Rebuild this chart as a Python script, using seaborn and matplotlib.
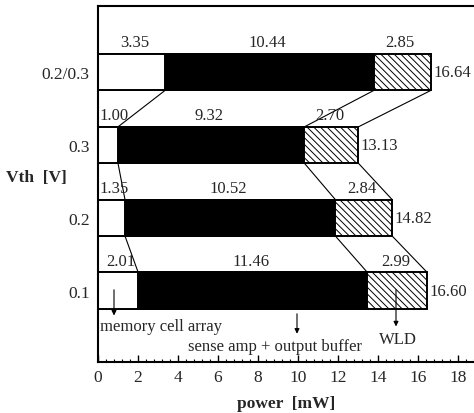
import numpy as np
import pandas as pd
import seaborn as sns
import matplotlib
matplotlib.use("Agg")
import matplotlib.pyplot as plt
from matplotlib.ticker import MultipleLocator

sns.set_theme(style="white")
plt.rcParams['font.family'] = ['Liberation Serif', 'DejaVu Serif']
plt.rcParams['hatch.linewidth'] = 0.7

# ---- data ----
vth = ["0.2/0.3", "0.3", "0.2", "0.1"]          # top to bottom
memory_cell = [3.35, 1.00, 1.35, 2.01]
sense_amp = [10.44, 9.32, 10.52, 11.46]
wld = [2.85, 2.70, 2.84, 2.99]
totals = ["16.64", "13.13", "14.82", "16.60"]
xticks = [0, 2, 4, 6, 8, 10, 12, 14, 16, 18]

mem = np.array(memory_cell)
sa = np.array(sense_amp)
wl = np.array(wld)
c1 = mem
c2 = mem + sa
c3 = mem + sa + wl

df = pd.DataFrame({"vth": vth, "c1": c1, "c2": c2, "c3": c3})

fig = plt.figure(figsize=(4.74, 4.14), dpi=100)
ax = fig.add_axes([98/474, 1-363/414, 1-98/474, (363-7)/414])

bw = 0.5
sns.barplot(data=df, y="vth", x="c3", order=vth, orient="h", ax=ax, width=bw,
            color="white", edgecolor="black", linewidth=1.4, hatch="\\\\\\\\\\",
            saturation=1)
sns.barplot(data=df, y="vth", x="c2", order=vth, orient="h", ax=ax, width=bw,
            color="black", edgecolor="black", linewidth=1.4, saturation=1)
sns.barplot(data=df, y="vth", x="c1", order=vth, orient="h", ax=ax, width=bw,
            color="white", edgecolor="black", linewidth=1.4, saturation=1)

ypos = np.arange(len(vth))
# connecting lines
for i in range(len(vth) - 1):
    yb = ypos[i] + bw / 2
    yt = ypos[i + 1] - bw / 2
    for arr in (c1, c2, c3):
        ax.plot([arr[i], arr[i + 1]], [yb, yt], color="black", lw=0.8)

# value labels
fs = 12
for i in range(len(vth)):
    ytop = ypos[i] - bw / 2 - 0.05
    ax.text(max(c1[i] / 2 + 0.15, 0.8), ytop, f"{memory_cell[i]:.2f}",
            ha="center", va="bottom", fontsize=fs)
    ax.text((c1[i] + c2[i]) / 2 - 0.1, ytop, f"{sense_amp[i]:.2f}",
            ha="center", va="bottom", fontsize=fs)
    ax.text((c2[i] + c3[i]) / 2 - 0.1, ytop, f"{wld[i]:.2f}",
            ha="center", va="bottom", fontsize=fs)
    ax.text(c3[i] + 0.12, ypos[i], totals[i], ha="left", va="center", fontsize=fs)

# annotations
yb = ypos[-1]
ax.annotate("", xy=(0.8, yb + 0.38), xytext=(0.8, yb - 0.05),
            arrowprops=dict(arrowstyle="-|>", color="black", lw=0.8, mutation_scale=7))
ax.text(0.1, yb + 0.49, "memory cell array", ha="left", va="center", fontsize=fs)
ax.annotate("", xy=(9.95, yb + 0.63), xytext=(9.95, yb + 0.28),
            arrowprops=dict(arrowstyle="-|>", color="black", lw=0.8, mutation_scale=7))
ax.text(8.85, yb + 0.76, "sense amp + output buffer", ha="center", va="center", fontsize=fs)
ax.annotate("", xy=(14.9, yb + 0.53), xytext=(14.9, yb - 0.05),
            arrowprops=dict(arrowstyle="-|>", color="black", lw=0.8, mutation_scale=7))
ax.text(15.0, yb + 0.67, "WLD", ha="center", va="center", fontsize=fs)

ax.set_xlim(0, 18.8)
ax.set_ylim(3.98, -0.91)
ax.set_xticks(xticks)
ax.xaxis.set_minor_locator(MultipleLocator(0.4))
ax.tick_params(axis="x", which="major", direction="in", length=5, width=1,
               bottom=True, labelsize=12.5, pad=5, color="black")
ax.tick_params(axis="x", which="minor", direction="in", length=2.5, width=0.8,
               bottom=True, color="black")
ax.tick_params(axis="y", length=0, labelsize=12.5, pad=6)
for s in ["left", "bottom", "top"]:
    ax.spines[s].set_visible(True)
    ax.spines[s].set_color("black")
    ax.spines[s].set_linewidth(1.5)
ax.spines["right"].set_visible(False)
ax.set_ylabel("")
ax.set_xlabel("power  [mW]", fontsize=12.5, fontweight="bold", labelpad=7)
fig.text(36/474, 1-178/414, "Vth  [V]", ha="center", va="center",
         fontsize=12.5, fontweight="bold")

fig.savefig("out.png", dpi=100)
